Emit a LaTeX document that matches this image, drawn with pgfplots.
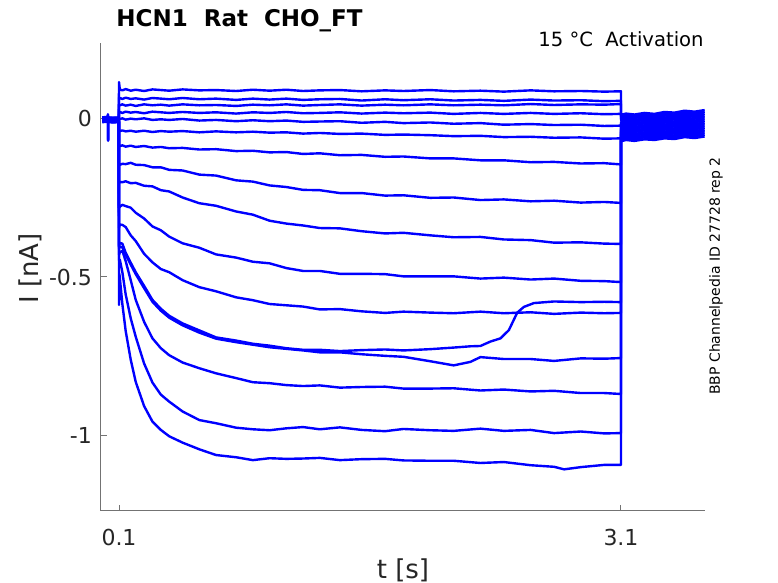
\documentclass[border=0pt]{standalone}
\usepackage{fontspec}
\setmainfont{DejaVu Sans}
\usepackage{pgfplots}
\pgfplotsset{compat=1.18}
\pgfplotsset{tr/.style={color=blue, line width=1.2pt, line join=round, mark=none}}
\begin{document}
\begin{tikzpicture}
\path[use as bounding box] (0,0) rectangle (389pt,291.5pt);
\begin{axis}[
  at={(50.5pt,36pt)}, anchor=south west,
  scale only axis, width=302pt, height=234pt,
  xmin=-0.0076, xmax=3.602, ymin=-1.236, ymax=0.236,
  axis x line*=bottom, axis y line*=left,
  axis line style={black!55, line width=0.5pt, -},
  xtick={0.1,3.1}, xticklabels={0.1,3.1},
  ytick={-1,-0.5,0}, yticklabels={-1,-0.5,0},
  tick align=inside, major tick length=3pt,
  tick style={black!55, line width=0.5pt},
  /pgf/number format/assume math mode=true,
  ticklabel style={font=\fontsize{11}{13}\selectfont, text=black!85},
  xticklabel style={yshift=-5.5pt},
  yticklabel style={xshift=-1pt},
  xlabel={t [s]}, ylabel={I [nA]},
  x label style={at={(axis description cs:0.5,-0.126)}, anchor=center, font=\fontsize{13}{15}\selectfont, text=black!85},
  y label style={at={(axis description cs:-0.1175,0.518)}, anchor=center, font=\fontsize{13}{15}\selectfont, text=black!85},
]
% trace 1
\addplot[tr] coordinates {(0,0.002) (0.02,0.003) (0.033,0.002) (0.034,0.012) (0.035,-0.072) (0.036,0.002) (0.06,0.001) (0.099,0.002)
(0.1,0.113) (0.105,0.090) (0.12,0.087) (0.14,0.091) (0.17,0.086) (0.2,0.089) (0.25,0.085) (0.3,0.090) (0.35,0.088) (0.4,0.086) (0.48,0.090) (0.58,0.087) (0.68,0.088) (0.8,0.085) (0.9,0.089) (1.0,0.086) (1.1,0.089) (1.2,0.085) (1.3,0.087) (1.42,0.088) (1.55,0.084) (1.69,0.087) (1.8,0.085) (1.96,0.088) (2.1,0.084) (2.26,0.086) (2.4,0.083) (2.56,0.087) (2.7,0.084) (2.86,0.085) (3.0,0.083) (3.1,0.084)
(3.1,0.010) (3.13,0.014) (3.18,0.011) (3.24,0.016) (3.3,0.013) (3.36,0.019) (3.42,0.017) (3.48,0.023) (3.54,0.020) (3.6,0.025)};
% trace 2
\addplot[tr] coordinates {(0,0.001) (0.03,0.002) (0.06,0.000) (0.099,0.001)
(0.1,0.064) (0.105,0.063) (0.12,0.060) (0.14,0.064) (0.17,0.060) (0.2,0.062) (0.25,0.058) (0.3,0.063) (0.35,0.061) (0.4,0.059) (0.48,0.063) (0.58,0.059) (0.68,0.061) (0.8,0.057) (0.9,0.061) (1.0,0.058) (1.1,0.061) (1.2,0.057) (1.3,0.059) (1.42,0.060) (1.55,0.055) (1.69,0.059) (1.8,0.056) (1.96,0.059) (2.1,0.055) (2.26,0.057) (2.4,0.054) (2.56,0.058) (2.7,0.055) (2.86,0.056) (3.0,0.053) (3.1,0.054)
(3.1,0.004) (3.13,0.008) (3.18,0.005) (3.24,0.011) (3.3,0.008) (3.36,0.013) (3.42,0.011) (3.48,0.017) (3.54,0.015) (3.6,0.020)};
% trace 3
\addplot[tr] coordinates {(0,0.000) (0.03,0.001) (0.06,-0.001) (0.099,0.000)
(0.1,0.041) (0.105,0.040) (0.12,0.043) (0.14,0.039) (0.17,0.042) (0.2,0.038) (0.25,0.043) (0.3,0.040) (0.35,0.042) (0.4,0.039) (0.48,0.043) (0.58,0.040) (0.68,0.041) (0.8,0.038) (0.9,0.042) (1.0,0.040) (1.1,0.043) (1.2,0.039) (1.3,0.041) (1.42,0.043) (1.55,0.039) (1.69,0.042) (1.8,0.040) (1.96,0.043) (2.1,0.040) (2.26,0.042) (2.4,0.040) (2.56,0.044) (2.7,0.041) (2.86,0.043) (3.0,0.042) (3.1,0.044)
(3.1,-0.001) (3.13,0.002) (3.18,0.000) (3.24,0.005) (3.3,0.002) (3.36,0.008) (3.42,0.006) (3.48,0.011) (3.54,0.009) (3.6,0.014)};
% trace 4
\addplot[tr] coordinates {(0,-0.001) (0.03,0.000) (0.06,-0.002) (0.099,-0.001)
(0.1,0.020) (0.105,0.019) (0.12,0.016) (0.14,0.020) (0.17,0.017) (0.2,0.019) (0.25,0.015) (0.3,0.020) (0.35,0.018) (0.4,0.016) (0.48,0.019) (0.58,0.016) (0.68,0.018) (0.8,0.014) (0.9,0.018) (1.0,0.016) (1.1,0.019) (1.2,0.015) (1.3,0.016) (1.42,0.018) (1.55,0.014) (1.69,0.017) (1.8,0.015) (1.96,0.017) (2.1,0.013) (2.26,0.016) (2.4,0.013) (2.56,0.016) (2.7,0.013) (2.86,0.015) (3.0,0.012) (3.1,0.013)
(3.1,-0.006) (3.13,-0.004) (3.18,-0.006) (3.24,-0.001) (3.3,-0.003) (3.36,0.002) (3.42,0.000) (3.48,0.006) (3.54,0.004) (3.6,0.008)};
% trace 5
\addplot[tr] coordinates {(0,-0.002) (0.03,-0.001) (0.06,-0.003) (0.099,-0.002)
(0.1,-0.002) (0.105,-0.003) (0.12,-0.001) (0.14,-0.005) (0.17,-0.002) (0.2,-0.004) (0.25,-0.001) (0.3,-0.006) (0.35,-0.004) (0.4,-0.006) (0.48,-0.003) (0.58,-0.008) (0.68,-0.006) (0.8,-0.010) (0.9,-0.007) (1.0,-0.010) (1.1,-0.008) (1.2,-0.012) (1.3,-0.011) (1.42,-0.010) (1.55,-0.015) (1.69,-0.012) (1.8,-0.016) (1.96,-0.014) (2.1,-0.018) (2.26,-0.016) (2.4,-0.021) (2.56,-0.019) (2.7,-0.022) (2.86,-0.021) (3.0,-0.025) (3.1,-0.024)
(3.1,-0.012) (3.13,-0.009) (3.18,-0.011) (3.24,-0.006) (3.3,-0.009) (3.36,-0.003) (3.42,-0.005) (3.48,0.000) (3.54,-0.002) (3.6,0.003)};
% trace 6
\addplot[tr] coordinates {(0,-0.003) (0.02,-0.002) (0.033,-0.003) (0.034,0.010) (0.035,-0.068) (0.036,-0.003) (0.06,-0.004) (0.099,-0.003)
(0.1,-0.040) (0.105,-0.041) (0.12,-0.039) (0.14,-0.042) (0.17,-0.040) (0.2,-0.043) (0.25,-0.040) (0.3,-0.044) (0.35,-0.041) (0.4,-0.043) (0.48,-0.041) (0.58,-0.045) (0.68,-0.042) (0.8,-0.045) (0.9,-0.043) (1.0,-0.046) (1.1,-0.045) (1.2,-0.049) (1.3,-0.047) (1.42,-0.050) (1.55,-0.049) (1.69,-0.053) (1.8,-0.052) (1.96,-0.054) (2.1,-0.057) (2.26,-0.056) (2.4,-0.060) (2.56,-0.059) (2.7,-0.062) (2.86,-0.061) (3.0,-0.065) (3.1,-0.064)
(3.1,-0.018) (3.13,-0.014) (3.18,-0.017) (3.24,-0.012) (3.3,-0.014) (3.36,-0.009) (3.42,-0.011) (3.48,-0.005) (3.54,-0.008) (3.6,-0.003)};
% trace 7
\addplot[tr] coordinates {(0,-0.004) (0.03,-0.003) (0.06,-0.005) (0.099,-0.004)
(0.1,-0.087) (0.105,-0.088) (0.12,-0.086) (0.14,-0.090) (0.17,-0.087) (0.2,-0.091) (0.25,-0.088) (0.3,-0.093) (0.35,-0.091) (0.4,-0.095) (0.48,-0.094) (0.58,-0.099) (0.68,-0.098) (0.8,-0.104) (0.9,-0.103) (1.0,-0.108) (1.1,-0.107) (1.2,-0.113) (1.3,-0.111) (1.42,-0.117) (1.55,-0.116) (1.69,-0.122) (1.8,-0.121) (1.96,-0.127) (2.1,-0.127) (2.26,-0.133) (2.4,-0.133) (2.56,-0.139) (2.7,-0.138) (2.86,-0.143) (3.0,-0.142) (3.1,-0.146)
(3.1,-0.023) (3.13,-0.020) (3.18,-0.022) (3.24,-0.017) (3.3,-0.020) (3.36,-0.014) (3.42,-0.016) (3.48,-0.011) (3.54,-0.013) (3.6,-0.008)};
% trace 8
\addplot[tr] coordinates {(0,-0.005) (0.03,-0.004) (0.06,-0.006) (0.099,-0.005)
(0.1,-0.149) (0.105,-0.147) (0.12,-0.144) (0.14,-0.145) (0.17,-0.141) (0.2,-0.147) (0.25,-0.148) (0.3,-0.155) (0.35,-0.155) (0.4,-0.163) (0.48,-0.165) (0.58,-0.178) (0.68,-0.181) (0.8,-0.196) (0.9,-0.200) (1.0,-0.212) (1.1,-0.217) (1.2,-0.226) (1.3,-0.227) (1.42,-0.236) (1.55,-0.236) (1.69,-0.244) (1.8,-0.243) (1.96,-0.251) (2.1,-0.250) (2.26,-0.258) (2.4,-0.256) (2.56,-0.262) (2.7,-0.260) (2.86,-0.266) (3.0,-0.264) (3.1,-0.267)
(3.1,-0.029) (3.13,-0.025) (3.18,-0.028) (3.24,-0.023) (3.3,-0.025) (3.36,-0.020) (3.42,-0.022) (3.48,-0.016) (3.54,-0.019) (3.6,-0.014)};
% trace 9
\addplot[tr] coordinates {(0,-0.006) (0.03,-0.005) (0.06,-0.007) (0.099,-0.006)
(0.1,-0.204) (0.105,-0.201) (0.12,-0.202) (0.14,-0.199) (0.17,-0.205) (0.2,-0.204) (0.25,-0.213) (0.3,-0.215) (0.35,-0.227) (0.4,-0.231) (0.48,-0.250) (0.58,-0.268) (0.68,-0.276) (0.8,-0.294) (0.9,-0.304) (1.0,-0.323) (1.1,-0.332) (1.2,-0.338) (1.3,-0.346) (1.42,-0.347) (1.55,-0.356) (1.69,-0.363) (1.8,-0.361) (1.96,-0.369) (2.1,-0.375) (2.26,-0.374) (2.4,-0.382) (2.56,-0.384) (2.7,-0.392) (2.86,-0.391) (3.0,-0.395) (3.1,-0.396)
(3.1,-0.034) (3.13,-0.031) (3.18,-0.033) (3.24,-0.028) (3.3,-0.031) (3.36,-0.025) (3.42,-0.027) (3.48,-0.022) (3.54,-0.024) (3.6,-0.019)};
% trace 10
\addplot[tr] coordinates {(0,-0.007) (0.03,-0.006) (0.06,-0.008) (0.099,-0.007)
(0.1,-0.282) (0.105,-0.279) (0.12,-0.273) (0.14,-0.277) (0.17,-0.282) (0.2,-0.298) (0.25,-0.316) (0.3,-0.341) (0.35,-0.353) (0.4,-0.373) (0.48,-0.394) (0.58,-0.408) (0.68,-0.429) (0.8,-0.439) (0.9,-0.452) (1.0,-0.457) (1.1,-0.472) (1.2,-0.481) (1.3,-0.481) (1.42,-0.490) (1.55,-0.490) (1.69,-0.491) (1.8,-0.498) (1.96,-0.498) (2.1,-0.498) (2.26,-0.505) (2.4,-0.502) (2.56,-0.508) (2.7,-0.505) (2.86,-0.512) (3.0,-0.513) (3.1,-0.516)
(3.1,-0.040) (3.13,-0.036) (3.18,-0.039) (3.24,-0.034) (3.3,-0.036) (3.36,-0.031) (3.42,-0.033) (3.48,-0.027) (3.54,-0.030) (3.6,-0.025)};
% trace 11
\addplot[tr] coordinates {(0,-0.008) (0.02,-0.007) (0.033,-0.008) (0.034,0.008) (0.035,-0.070) (0.036,-0.008) (0.06,-0.009) (0.099,-0.008)
(0.1,-0.345) (0.105,-0.335) (0.12,-0.336) (0.14,-0.343) (0.17,-0.369) (0.2,-0.387) (0.25,-0.427) (0.3,-0.454) (0.35,-0.475) (0.4,-0.485) (0.48,-0.510) (0.58,-0.532) (0.68,-0.545) (0.8,-0.564) (0.9,-0.573) (1.0,-0.585) (1.1,-0.589) (1.2,-0.593) (1.3,-0.602) (1.42,-0.601) (1.55,-0.608) (1.69,-0.613) (1.8,-0.609) (1.96,-0.612) (2.1,-0.614) (2.26,-0.609) (2.4,-0.614) (2.56,-0.611) (2.7,-0.616) (2.86,-0.612) (3.0,-0.614) (3.1,-0.613)
(3.1,-0.045) (3.13,-0.042) (3.18,-0.044) (3.24,-0.039) (3.3,-0.042) (3.36,-0.036) (3.42,-0.038) (3.48,-0.033) (3.54,-0.035) (3.6,-0.030)};
% trace 12
\addplot[tr] coordinates {(0,-0.009) (0.03,-0.008) (0.06,-0.010) (0.099,-0.009)
(0.1,-0.400) (0.105,-0.393) (0.12,-0.395) (0.14,-0.424) (0.17,-0.455) (0.2,-0.485) (0.25,-0.528) (0.3,-0.572) (0.35,-0.600) (0.4,-0.622) (0.48,-0.646) (0.58,-0.668) (0.68,-0.690) (0.8,-0.700) (0.9,-0.710) (1.0,-0.716) (1.1,-0.724) (1.2,-0.729) (1.3,-0.729) (1.42,-0.733) (1.55,-0.730) (1.69,-0.728) (1.8,-0.731) (1.96,-0.727) (2.1,-0.722) (2.2,-0.718) (2.26,-0.717) (2.32,-0.703) (2.38,-0.693) (2.43,-0.667) (2.48,-0.612) (2.52,-0.594) (2.58,-0.582) (2.7,-0.577) (2.86,-0.579) (3.0,-0.578) (3.1,-0.579)
(3.1,-0.051) (3.13,-0.047) (3.18,-0.050) (3.24,-0.045) (3.3,-0.047) (3.36,-0.042) (3.42,-0.044) (3.48,-0.038) (3.54,-0.041) (3.6,-0.036)};
% trace 13
\addplot[tr] coordinates {(0,-0.010) (0.03,-0.009) (0.06,-0.011) (0.099,-0.010)
(0.1,-0.410) (0.105,-0.404) (0.12,-0.407) (0.14,-0.430) (0.17,-0.461) (0.2,-0.491) (0.25,-0.535) (0.3,-0.578) (0.35,-0.606) (0.4,-0.628) (0.48,-0.652) (0.58,-0.675) (0.68,-0.694) (0.8,-0.705) (0.9,-0.713) (1.0,-0.721) (1.1,-0.726) (1.2,-0.731) (1.3,-0.737) (1.42,-0.737) (1.55,-0.743) (1.69,-0.748) (1.8,-0.751) (1.96,-0.765) (2.1,-0.778) (2.2,-0.767) (2.26,-0.752) (2.4,-0.758) (2.56,-0.758) (2.7,-0.764) (2.86,-0.756) (3.0,-0.757) (3.1,-0.755)
(3.1,-0.056) (3.13,-0.053) (3.18,-0.055) (3.24,-0.050) (3.3,-0.053) (3.36,-0.047) (3.42,-0.049) (3.48,-0.044) (3.54,-0.046) (3.6,-0.041)};
% trace 14
\addplot[tr] coordinates {(0,-0.011) (0.03,-0.010) (0.06,-0.012) (0.099,-0.011)
(0.1,-0.430) (0.105,-0.422) (0.12,-0.418) (0.14,-0.450) (0.17,-0.510) (0.2,-0.572) (0.25,-0.641) (0.3,-0.693) (0.35,-0.724) (0.4,-0.746) (0.48,-0.769) (0.58,-0.787) (0.68,-0.803) (0.8,-0.818) (0.9,-0.831) (1.0,-0.834) (1.1,-0.840) (1.2,-0.843) (1.3,-0.841) (1.42,-0.848) (1.55,-0.846) (1.69,-0.845) (1.8,-0.851) (1.96,-0.851) (2.1,-0.850) (2.26,-0.857) (2.4,-0.854) (2.56,-0.860) (2.7,-0.858) (2.86,-0.865) (3.0,-0.865) (3.1,-0.868)
(3.1,-0.062) (3.13,-0.058) (3.18,-0.061) (3.24,-0.056) (3.3,-0.058) (3.36,-0.053) (3.42,-0.055) (3.48,-0.049) (3.54,-0.052) (3.6,-0.047)};
% trace 15
\addplot[tr] coordinates {(0,-0.012) (0.03,-0.011) (0.06,-0.013) (0.099,-0.012)
(0.1,-0.447) (0.105,-0.446) (0.12,-0.485) (0.14,-0.555) (0.17,-0.630) (0.2,-0.688) (0.25,-0.772) (0.3,-0.832) (0.35,-0.870) (0.4,-0.892) (0.48,-0.923) (0.58,-0.950) (0.68,-0.960) (0.8,-0.974) (0.9,-0.979) (1.0,-0.982) (1.1,-0.976) (1.2,-0.972) (1.3,-0.979) (1.42,-0.973) (1.55,-0.981) (1.69,-0.985) (1.8,-0.978) (1.96,-0.982) (2.1,-0.984) (2.26,-0.977) (2.4,-0.984) (2.56,-0.981) (2.7,-0.991) (2.86,-0.986) (3.0,-0.992) (3.1,-0.991)
(3.1,-0.067) (3.13,-0.064) (3.18,-0.066) (3.24,-0.061) (3.3,-0.064) (3.36,-0.058) (3.42,-0.060) (3.48,-0.055) (3.54,-0.057) (3.6,-0.052)};
% trace 16
\addplot[tr] coordinates {(0,-0.013) (0.03,-0.012) (0.06,-0.014) (0.099,-0.013)
(0.1,-0.588) (0.102,-0.490) (0.105,-0.503) (0.12,-0.585) (0.14,-0.670) (0.17,-0.760) (0.2,-0.830) (0.25,-0.906) (0.3,-0.955) (0.35,-0.981) (0.4,-1.001) (0.48,-1.021) (0.58,-1.042) (0.68,-1.060) (0.8,-1.067) (0.9,-1.076) (1.0,-1.070) (1.1,-1.072) (1.2,-1.071) (1.3,-1.069) (1.42,-1.076) (1.55,-1.073) (1.69,-1.072) (1.8,-1.077) (1.96,-1.078) (2.1,-1.078) (2.26,-1.085) (2.4,-1.082) (2.56,-1.092) (2.7,-1.097) (2.76,-1.105) (2.86,-1.098) (3.0,-1.091) (3.1,-1.091)
(3.1,-0.073) (3.13,-0.069) (3.18,-0.072) (3.24,-0.067) (3.3,-0.069) (3.36,-0.064) (3.42,-0.066) (3.48,-0.060) (3.54,-0.063) (3.6,-0.058)};
\end{axis}
\node[anchor=base west, inner sep=0pt, font=\fontsize{11.5}{13}\selectfont\bfseries] at (58pt,278pt) {HCN1\ \ Rat\ \ CHO\_FT};
\node[anchor=base east, inner sep=0pt, font=\fontsize{9.8}{12}\selectfont] at (352pt,268pt) {15 °C\ \ Activation};
\node[rotate=90, inner sep=0pt, font=\fontsize{7}{8}\selectfont] at (358pt,153.5pt) {BBP Channelpedia ID 27728 rep 2};
\end{tikzpicture}
\end{document}
